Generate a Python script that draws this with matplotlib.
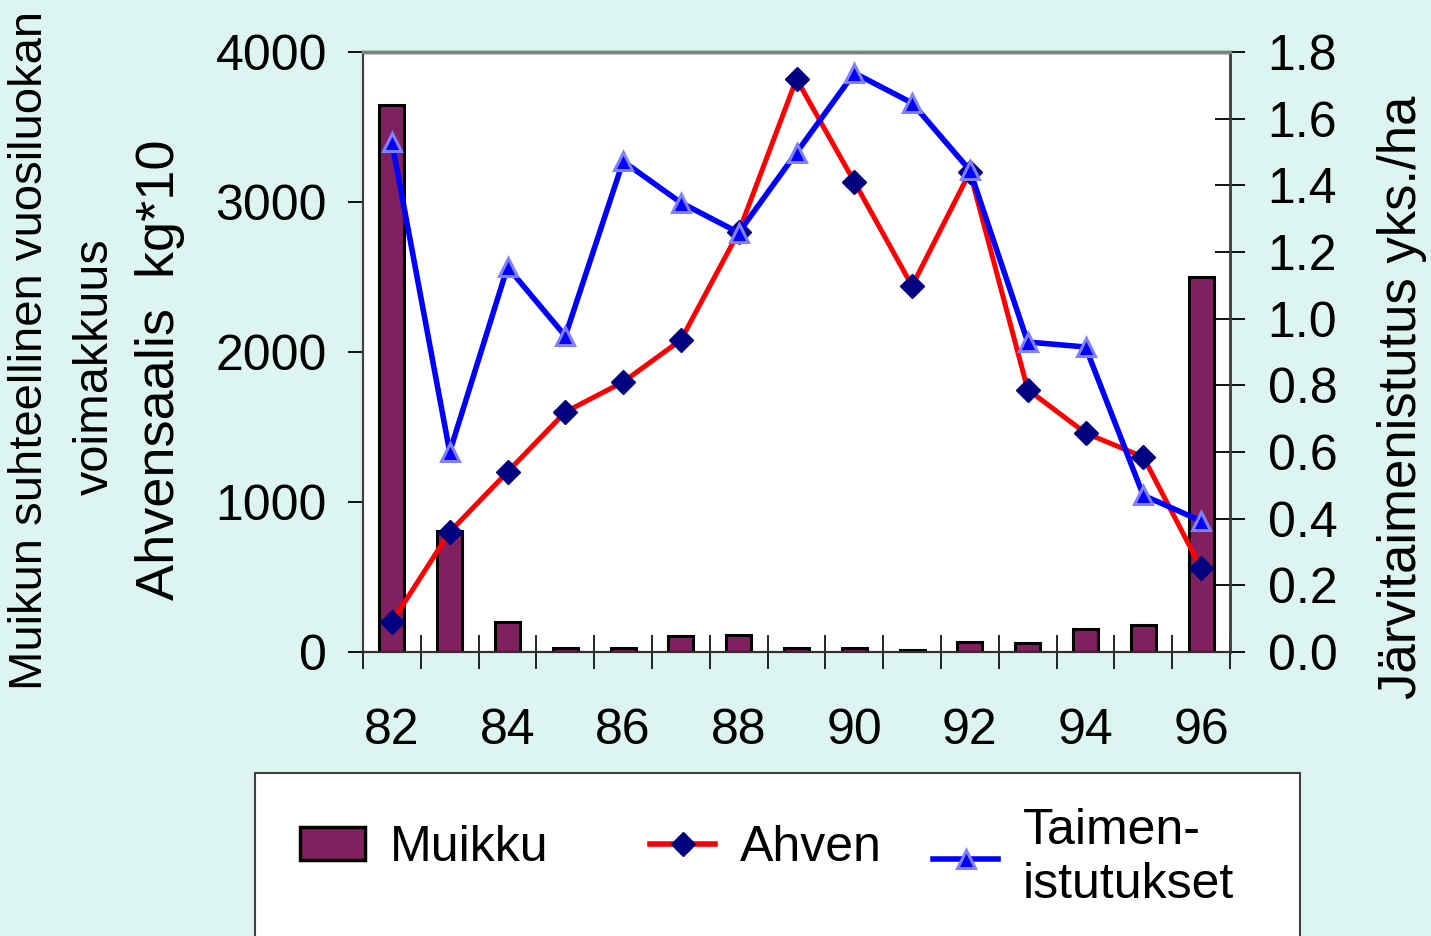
import matplotlib
matplotlib.use('Agg')
import matplotlib.pyplot as plt
from matplotlib.patches import Rectangle, Patch
from matplotlib.lines import Line2D
import numpy as np

plt.rcParams['font.family'] = ['Liberation Sans', 'DejaVu Sans']

# data
vuodet = ['82', '83', '84', '85', '86', '87', '88', '89', '90', '91', '92', '93', '94', '95', '96']
muikku = [3650, 810, 200, 30, 30, 110, 115, 25, 28, 12, 65, 58, 155, 180, 2500]
ahven = [200, 800, 1200, 1600, 1800, 2080, 2800, 3820, 3135, 2440, 3200, 1750, 1460, 1300, 560]
taimen = [1.53, 0.60, 1.155, 0.948, 1.472, 1.348, 1.258, 1.498, 1.737, 1.647, 1.445, 0.93, 0.915, 0.47, 0.393]

left_ticks = [0, 1000, 2000, 3000, 4000]
right_ticks = [0.0, 0.2, 0.4, 0.6, 0.8, 1.0, 1.2, 1.4, 1.6, 1.8]

W, H = 1431, 936
bg = '#DCF5F0'
fs = 36

fig = plt.figure(figsize=(W / 100, H / 100), dpi=100, facecolor=bg)
ax = fig.add_axes([363 / W, 1 - 652 / H, 867 / W, 600 / H])
ax.set_facecolor('white')

x = np.arange(len(vuodet))
ax.bar(x, muikku, width=0.43, color='#80205F', edgecolor='black', linewidth=2.2, zorder=2)
ax.plot(x, ahven, color='#FF0000', lw=3.6, marker='D', markersize=12,
        markerfacecolor='#000080', markeredgecolor='#000080', zorder=3)
ax.set_xlim(-0.5, len(vuodet) - 0.5)
ax.set_ylim(0, 4000)
ax.set_yticks(left_ticks)
ax.set_yticklabels([str(v) for v in left_ticks], fontsize=fs)
ax.tick_params(axis='y', direction='out', length=11, width=1.3, pad=15, colors='black')

# x ticks between the categories, labels on every other year
ax.set_xticks(np.arange(-0.5, len(vuodet), 1.0))
ax.set_xticklabels([])
ax.set_xticks(x[::2], minor=True)
ax.set_xticklabels(vuodet[::2], minor=True, fontsize=fs)
ax.tick_params(axis='x', which='major', direction='inout', length=24, width=1.2)
ax.tick_params(axis='x', which='minor', length=0, pad=40)

ax2 = ax.twinx()
ax2.plot(x, taimen, color='#0000FF', lw=4, marker='^', markersize=13,
         markerfacecolor='#0000FF', markeredgecolor='#8080FF', markeredgewidth=2.2, zorder=4)
ax2.set_ylim(0, 1.8)
ax2.set_yticks(right_ticks)
ax2.set_yticklabels(['%.1f' % v for v in right_ticks], fontsize=fs)
ax2.tick_params(axis='y', direction='inout', length=22, width=1.3, pad=16)

for a in (ax, ax2):
    a.spines['top'].set_color('#808080')
    a.spines['top'].set_linewidth(2.5)
    a.spines['left'].set_color('#404040')
    a.spines['left'].set_linewidth(1.5)
    a.spines['right'].set_color('#404040')
    a.spines['right'].set_linewidth(1.8)
    a.spines['bottom'].set_color('#303030')
    a.spines['bottom'].set_linewidth(1.5)

# axis titles
fig.text(30 / W, 1 - 350 / H, 'Muikun suhteellinen vuosiluokan', rotation=90,
         ha='center', va='center', fontsize=34)
fig.text(95 / W, 1 - 367 / H, 'voimakkuus', rotation=90,
         ha='center', va='center', fontsize=35)
fig.text(160 / W, 1 - 370 / H, 'Ahvensaalis  kg*10', rotation=90,
         ha='center', va='center', fontsize=39)
fig.text(1402 / W, 1 - 397 / H, 'Järvitaimenistutus yks./ha', rotation=90,
         ha='center', va='center', fontsize=38)

# legend box
fig.patches.append(Rectangle((255 / W, -0.02), 1045 / W, (936 - 773) / H + 0.02,
                             transform=fig.transFigure, facecolor='white',
                             edgecolor='#404040', linewidth=1.5))

h_muikku = Patch(facecolor='#80205F', edgecolor='black', linewidth=2.5)
h_ahven = Line2D([], [], color='#FF0000', lw=4, marker='D', markersize=12,
                 markerfacecolor='#000080', markeredgecolor='#000080')
h_taimen = Line2D([], [], color='#0000FF', lw=4, marker='^', markersize=13,
                  markerfacecolor='#0000FF', markeredgecolor='#8080FF', markeredgewidth=2.2)

for h, lab, xp, yp in [(h_muikku, 'Muikku', 300, 848), (h_ahven, 'Ahven', 650, 848),
                       (h_taimen, 'Taimen-\nistutukset', 933, 858)]:
    fig.legend(handles=[h], labels=[lab], loc='center left',
               bbox_to_anchor=(xp / W, 1 - yp / H), frameon=False, fontsize=fs,
               borderpad=0, borderaxespad=0, handlelength=1.3, handleheight=0.65,
               handletextpad=0.5)

fig.savefig('out.png', dpi=100, facecolor=bg)
